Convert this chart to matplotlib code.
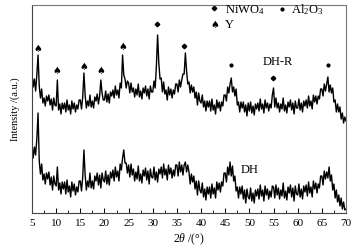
import numpy as np
import matplotlib
matplotlib.use("Agg")
import matplotlib.pyplot as plt
from matplotlib.ticker import MultipleLocator

plt.rcParams['font.family'] = ['Liberation Serif', 'DejaVu Serif']
plt.rcParams['mathtext.fontset'] = 'custom'
plt.rcParams['mathtext.rm'] = 'Liberation Serif'
plt.rcParams['mathtext.it'] = 'Liberation Serif:italic'

# 2theta grid, 0.25 deg steps from 5 to 70
two_theta_start = 5.0
two_theta_step = 0.25

dhr_intensity = [
    139,126,134,122,138,158,127,115,124,110,115,107,117,112,118,108,114,103,115,108,
    107,133,103,109,99,110,104,110,101,113,103,108,99,112,104,110,101,108,104,113,
    113,104,116,140,118,105,112,107,118,106,112,105,116,112,119,109,117,133,120,113,
    113,122,111,119,110,121,117,123,115,127,118,123,115,130,125,158,138,134,125,132,
    130,120,130,121,125,116,124,118,129,116,122,114,125,120,127,117,124,114,127,121,
    121,132,125,147,178,150,134,135,121,131,119,123,113,126,118,124,115,123,119,129,
    129,121,133,126,133,139,139,160,142,129,131,120,128,121,126,115,121,108,120,112,
    110,118,106,112,102,112,106,112,102,114,103,108,99,113,105,111,102,111,107,118,
    118,112,126,120,129,135,121,126,117,124,108,111,101,111,105,111,101,108,97,110,
    102,111,100,107,98,109,104,110,102,114,104,109,100,113,105,110,102,109,105,118,
    125,106,115,105,110,101,109,104,115,102,108,100,111,106,113,103,110,99,112,105,
    105,114,103,110,101,112,107,113,105,117,107,112,104,118,111,117,109,117,114,124,
    124,117,129,122,129,136,121,128,120,125,111,113,101,109,101,106,94,100,90,96,
    92,
]

dh_intensity = [
    69,55,66,58,74,100,52,39,49,33,39,29,40,34,41,28,36,23,37,29,
    27,46,23,30,19,31,24,31,19,33,21,27,16,31,22,29,18,26,21,32,
    32,22,36,63,38,23,32,26,40,25,32,24,37,32,40,28,38,25,40,33,
    31,42,29,38,28,41,35,43,32,46,36,42,32,49,43,55,63,50,50,40,
    48,36,49,38,44,32,41,34,47,32,39,30,43,37,45,33,42,29,44,36,
    35,46,33,41,31,44,39,46,35,49,38,44,33,48,39,45,35,43,37,48,
    48,37,51,41,48,38,48,51,41,48,41,29,39,31,37,24,32,18,32,23,
    20,30,16,24,13,26,19,26,15,29,19,25,15,31,23,30,21,31,27,40,
    40,31,46,38,51,37,47,32,37,22,26,15,26,19,27,14,23,10,24,16,
    14,25,12,20,10,23,17,24,14,28,17,23,12,27,18,24,14,22,16,27,
    26,15,28,18,25,14,23,17,30,15,22,13,26,20,28,16,25,12,27,19,
    18,29,16,24,14,27,21,28,17,31,20,26,16,32,24,30,20,29,25,37,
    37,28,42,34,41,35,46,32,38,23,29,15,23,11,18,7,15,4,11,3,
    4,
]

# phase markers (2theta, height)
y_phase_pos = [6.2, 10.2, 15.7, 19.2, 23.75]
y_phase_h = [164, 142, 146, 142, 166]
niwo4_pos = [30.9, 36.4, 54.9]
niwo4_h = [189, 167, 135]
al2o3_pos = [46.2, 66.2]
al2o3_h = [148, 148]

x_ticks = [5, 10, 15, 20, 25, 30, 35, 40, 45, 50, 55, 60, 65, 70]

two_theta = two_theta_start + two_theta_step * np.arange(len(dhr_intensity))

fig = plt.figure(figsize=(3.58, 2.52), dpi=100)
ax = fig.add_axes([32/358, 39/252, (346-32)/358, (213-5)/252])

ax.plot(two_theta, dhr_intensity, color='black', lw=1.0)
ax.plot(two_theta, dh_intensity, color='black', lw=1.0)

for p, h in zip(y_phase_pos, y_phase_h):
    ax.text(p, h, '\u2660', fontsize=7, ha='center', va='center', family='DejaVu Sans')
ax.plot(niwo4_pos, niwo4_h, 'D', color='black', ms=2.3, ls='none')
ax.plot(al2o3_pos, al2o3_h, 'o', color='black', ms=2.0, ls='none')

# legend (manual)
ax.plot([42.6], [205], 'D', color='black', ms=2.3)
ax.text(44.85, 203, 'NiWO$_4$', fontsize=9, ha='left', va='center')
ax.plot([56.8], [204], 'o', color='black', ms=2.0)
ax.text(58.7, 203, 'Al$_2$O$_3$', fontsize=9, ha='left', va='center')
ax.text(42.85, 188, '\u2660', fontsize=7, ha='center', va='center', family='DejaVu Sans')
ax.text(45.0, 188, 'Y', fontsize=9, ha='left', va='center')

ax.text(52.7, 151, 'DH-R', fontsize=9, ha='left', va='center')
ax.text(48.2, 43, 'DH', fontsize=9, ha='left', va='center')

ax.set_xlim(5, 70)
ax.set_ylim(0, 208)
ax.set_xticks(x_ticks)
ax.xaxis.set_minor_locator(MultipleLocator(2.5))
ax.set_yticks([])
ax.tick_params(axis='x', which='major', direction='in', length=3.5, width=0.7, labelsize=8, pad=4)
ax.tick_params(axis='x', which='minor', direction='in', length=2, width=0.6)
for name, s in ax.spines.items():
    s.set_color('#777777' if name in ('top', 'right') else '#444444')
    s.set_linewidth(0.8)

ax.set_xlabel('2$\\mathit{\\theta}$ /(°)', fontsize=8.5, labelpad=3)
ax.set_ylabel('Intensity /(a.u.)', fontsize=7.5, labelpad=9)

fig.savefig('out.png', dpi=100)
